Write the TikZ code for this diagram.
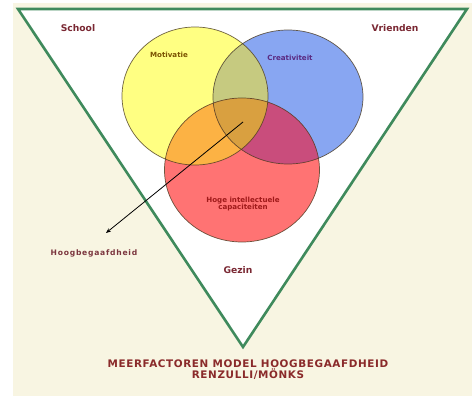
\documentclass[tikz,border=0pt]{standalone}
\usepackage{fontspec}
\setmainfont{DejaVu Sans}
\usetikzlibrary{arrows.meta}

\definecolor{bgcream}{HTML}{F8F5E2}
\definecolor{rimgreen}{HTML}{3F8A5C}
\definecolor{motyellow}{HTML}{FFFF82}
\definecolor{creablue}{HTML}{88A6F2}
\definecolor{iqred}{HTML}{FF7373}
\definecolor{mixyb}{HTML}{C6CA80}
\definecolor{mixyr}{HTML}{FCB244}
\definecolor{mixbr}{HTML}{C94D7C}
\definecolor{mixall}{HTML}{D9A040}
\definecolor{ringline}{HTML}{4A3A20}
\definecolor{envtext}{HTML}{7A2833}
\definecolor{mottext}{HTML}{7A5200}
\definecolor{creatext}{HTML}{5A2A82}
\definecolor{iqtext}{HTML}{A01A1A}
\definecolor{titletext}{HTML}{8A2A2A}

% the three circles of the model
\newcommand{\motpath}{(195,96) ellipse [x radius=73pt, y radius=69pt]}
\newcommand{\creapath}{(288,97) ellipse [x radius=75pt, y radius=67pt]}
\newcommand{\iqpath}{(242,170) ellipse [x radius=77.5pt, y radius=72pt]}

\tikzset{
  envlabel/.style={text=envtext, font=\bfseries\fontsize{9.2}{10}\selectfont, inner sep=0pt},
  factorlabel/.style={font=\bfseries\fontsize{7.1}{8}\selectfont, inner sep=0pt, align=center},
  ring/.style={draw=ringline, draw opacity=0.8, line width=0.7pt}
}

\begin{document}
\begin{tikzpicture}[x=1pt, y=-1pt]
  \useasboundingbox (0,0) rectangle (472,396);
  \fill[white] (0,0) rectangle (472,396);
  \fill[bgcream] (13,3) rectangle (472,396);

  % environment triangle
  \filldraw[rimgreen, fill=white, line width=2.6pt] (18,9) coordinate (TL) -- (467,9) coordinate (TR) -- (243,347) coordinate (B) -- cycle;

  % circles
  \fill[motyellow] \motpath;
  \fill[creablue] \creapath;
  \fill[iqred] \iqpath;
  \begin{scope}
    \clip \motpath;
    \fill[mixyb] \creapath;
    \fill[mixyr] \iqpath;
  \end{scope}
  \begin{scope}
    \clip \creapath;
    \fill[mixbr] \iqpath;
  \end{scope}
  \begin{scope}
    \clip \motpath;
    \clip \creapath;
    \fill[mixall] \iqpath;
  \end{scope}
  \draw[ring] \motpath;
  \draw[ring] \creapath;
  \draw[ring] \iqpath;

  % labels
  \node[envlabel] (school) at (78,28) {School};
  \node[envlabel] (vrienden) at (395,28) {Vrienden};
  \node[envlabel] (gezin) at (238,270) {Gezin};
  \node[factorlabel, text=mottext] (motivatie) at (169,55) {Motivatie};
  \node[factorlabel, text=creatext] (creativiteit) at (290,58) {Creativiteit};
  \node[factorlabel, text=iqtext] (hoge) at (243,204) {Hoge intellectuele\\[-1.2pt]capaciteiten};
  \node[text=envtext!85!gray, inner sep=0pt, font=\bfseries\fontsize{7.6}{8}\selectfont\addfontfeatures{LetterSpace=10}] (hoogbeg) at (94,253) {Hoogbegaafdheid};
  \node[text=titletext, inner sep=0pt, align=center, font=\bfseries\fontsize{10.4}{10.5}\selectfont\addfontfeatures{LetterSpace=6}] (titel) at (248,369.5) {MEERFACTOREN MODEL HOOGBEGAAFDHEID\\RENZULLI/MÖNKS};

  % arrow out of the core
  \coordinate (core) at (243,122);
  \coordinate (tip) at (106,233);
  \draw[line width=0.8pt, -{Stealth[length=5pt, width=4pt]}] (core) -- (tip);
\end{tikzpicture}
\end{document}
